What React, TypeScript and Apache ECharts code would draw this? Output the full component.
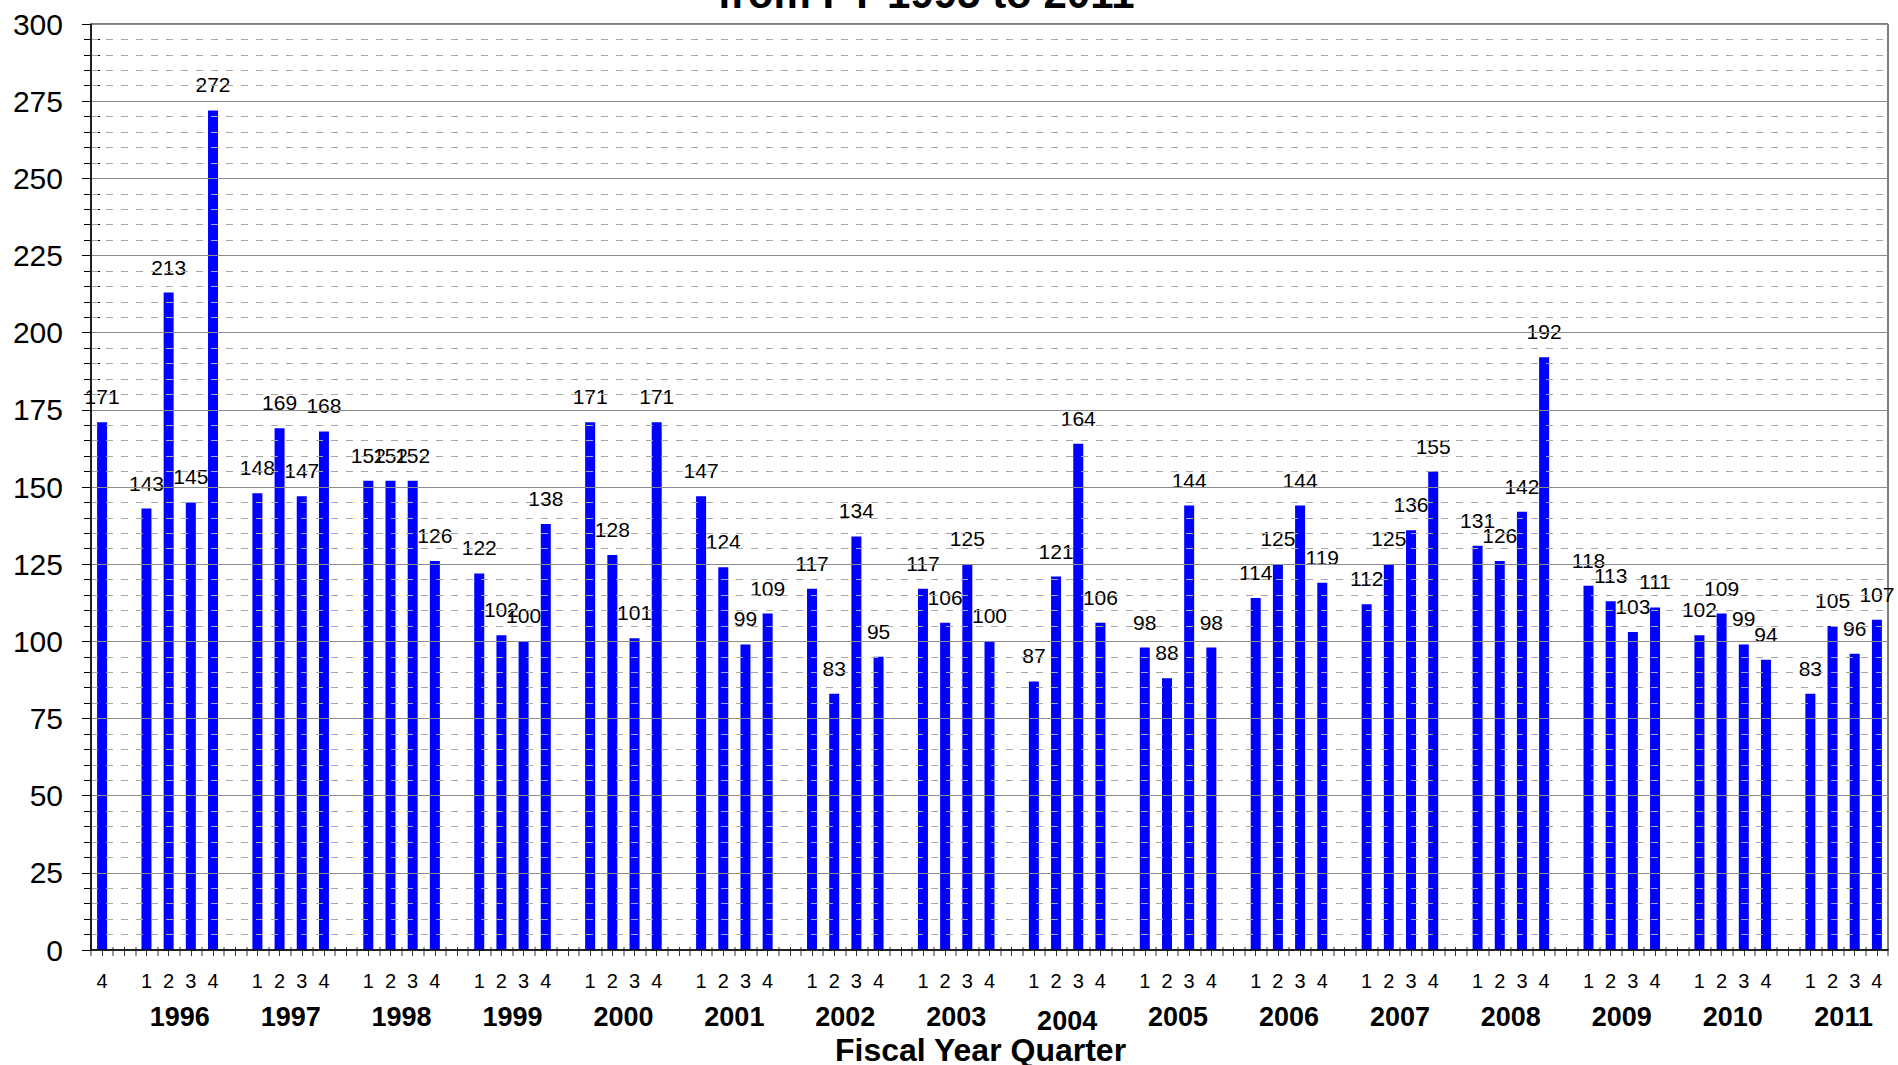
import React, { useEffect, useRef } from "react";
import * as echarts from "echarts";

// ---- Data ----
const FIRST_QUARTER_LABEL = "4"; // FY1995 Q4
const FIRST_VALUE = 171;
const YEARS = ["1996", "1997", "1998", "1999", "2000", "2001", "2002", "2003", "2004", "2005", "2006", "2007", "2008", "2009", "2010", "2011"];
const QUARTERS = ["1", "2", "3", "4"];
const V1996 = [143, 213, 145, 272];
const V1997 = [148, 169, 147, 168];
const V1998 = [152, 152, 152, 126];
const V1999 = [122, 102, 100, 138];
const V2000 = [171, 128, 101, 171];
const V2001 = [147, 124, 99, 109];
const V2002 = [117, 83, 134, 95];
const V2003 = [117, 106, 125, 100];
const V2004 = [87, 121, 164, 106];
const V2005 = [98, 88, 144, 98];
const V2006 = [114, 125, 144, 119];
const V2007 = [112, 125, 136, 155];
const V2008 = [131, 126, 142, 192];
const V2009 = [118, 113, 103, 111];
const V2010 = [102, 109, 99, 94];
const V2011 = [83, 105, 96, 107];
const YEAR_VALUES = [V1996, V1997, V1998, V1999, V2000, V2001, V2002, V2003, V2004, V2005, V2006, V2007, V2008, V2009, V2010, V2011];
const Y_TICKS = [0, 25, 50, 75, 100, 125, 150, 175, 200, 225, 250, 275, 300];
const TITLE_TEXT = "from FY 1995 to 2011";
const X_NAME = "Fiscal Year Quarter";

const FONT = "'Liberation Sans', Arial, Helvetica, sans-serif";

export default function App() {
  const ref = useRef<HTMLDivElement>(null);

  useEffect(() => {
    if (!ref.current) return;
    const chart = echarts.init(ref.current, undefined, { renderer: "svg" });

    // build slots: one gap slot before each year
    const categories: string[] = [FIRST_QUARTER_LABEL];
    const values: (number | null)[] = [FIRST_VALUE];
    YEARS.forEach((_, k) => {
      categories.push("");
      values.push(null);
      QUARTERS.forEach((q, i) => {
        categories.push(q);
        values.push(YEAR_VALUES[k][i]);
      });
    });
    const n = categories.length; // 81
    // boundary points axis (n+1 points) for year labels & boundary ticks
    const boundaryCats: string[] = [];
    for (let i = 0; i <= n; i++) boundaryCats.push("");
    YEARS.forEach((y, k) => {
      boundaryCats[4 + 5 * k] = y;
    });

    const yMin = Y_TICKS[0];
    const yMax = Y_TICKS[Y_TICKS.length - 1];
    const yInt = Y_TICKS[1] - Y_TICKS[0];

    const option: any = {
      animation: false,
      backgroundColor: "#ffffff",
      textStyle: { fontFamily: FONT },
      grid: {
        left: 91,
        right: 10,
        top: 24,
        bottom: 115,
        show: true,
        borderColor: "#000",
        borderWidth: 1,
        containLabel: false,
        outerBoundsMode: "none",
      },
      graphic: [
        {
          type: "text",
          x: 926,
          y: 14,
          style: {
            text: TITLE_TEXT,
            fontSize: 42,
            fontWeight: "bold",
            fontFamily: FONT,
            fill: "#000",
            align: "center",
            verticalAlign: "bottom",
          },
        },
      ],
      xAxis: [
        {
          type: "category",
          data: categories,
          position: "bottom",
          boundaryGap: true,
          axisLine: { show: true, lineStyle: { color: "#000", width: 1.5 } },
          axisTick: { show: false },
          axisLabel: {
            interval: 0,
            fontSize: 20,
            color: "#000",
            fontFamily: FONT,
            margin: 21,
          },
          splitLine: { show: false },
          z: 10,
        },
        {
          type: "category",
          data: categories,
          position: "bottom",
          offset: -3,
          boundaryGap: true,
          axisLine: { show: false },
          axisTick: { show: true, interval: 0, alignWithLabel: true, length: 9, lineStyle: { color: "#333", width: 1 } },
          axisLabel: { show: false },
          splitLine: { show: false },
        },
        {
          type: "category",
          data: boundaryCats,
          position: "bottom",
          offset: -3,
          boundaryGap: false,
          axisLine: { show: false },
          axisTick: { show: true, interval: 0, length: 9, lineStyle: { color: "#777", width: 1.5 } },
          axisLabel: {
            interval: 0,
            fontSize: 27,
            fontWeight: "bold",
            color: "#000",
            fontFamily: FONT,
            margin: 56,
            formatter: (v: string) => (v === "2004" ? "{low|" + v + "}" : v),
            rich: {
              low: { fontSize: 27, fontWeight: "bold", fontFamily: FONT, color: "#000", padding: [4, 0, 0, 0] },
            },
          },
          name: X_NAME,
          nameLocation: "middle",
          nameGap: 87,
          nameMoveOverlap: false,
          nameTextStyle: {
            fontSize: 32,
            lineHeight: 32,
            fontWeight: "bold",
            color: "#000",
            fontFamily: FONT,
            verticalAlign: "top",
            padding: [0, 18, 0, 0],
          },
          splitLine: { show: false },
        },
      ],
      yAxis: [
        {
          type: "value",
          min: yMin,
          max: yMax,
          interval: yInt,
          axisLine: { show: true, lineStyle: { color: "#000", width: 1.5 } },
          axisTick: { show: false },
          axisLabel: { fontSize: 30, color: "#000", fontFamily: FONT, margin: 28 },
          splitLine: { show: true, lineStyle: { color: "#8c8c8c", width: 1 } },
          minorTick: { show: false, splitNumber: 5 },
          minorSplitLine: { show: true, lineStyle: { color: "#a8a8a8", width: 1, type: [7, 8] } },
          z: 10,
        },
        {
          type: "value",
          min: yMin,
          max: yMax,
          interval: yInt,
          position: "left",
          offset: -9,
          axisLine: { show: false },
          axisTick: { show: true, length: 18, lineStyle: { color: "#000", width: 1 } },
          minorTick: { show: true, splitNumber: 5, length: 16, lineStyle: { color: "#000", width: 1 } },
          axisLabel: { show: false },
          splitLine: { show: false },
          minorSplitLine: { show: false },
        },
      ],
      series: [
        {
          type: "bar",
          xAxisIndex: 0,
          yAxisIndex: 0,
          data: values,
          barWidth: 10,
          itemStyle: { color: "#0000ff" },
          label: {
            show: true,
            position: "top",
            distance: 15,
            fontSize: 21,
            color: "#000",
            fontFamily: FONT,
          },
          labelLayout: { hideOverlap: false },
          z: 5,
        },
      ],
    };

    chart.setOption(option);
    return () => chart.dispose();
  }, []);

  return (
    <div
      ref={ref}
      style={{ position: "fixed", left: 0, top: 0, width: 1898, height: 1065, background: "#fff" }}
    />
  );
}
